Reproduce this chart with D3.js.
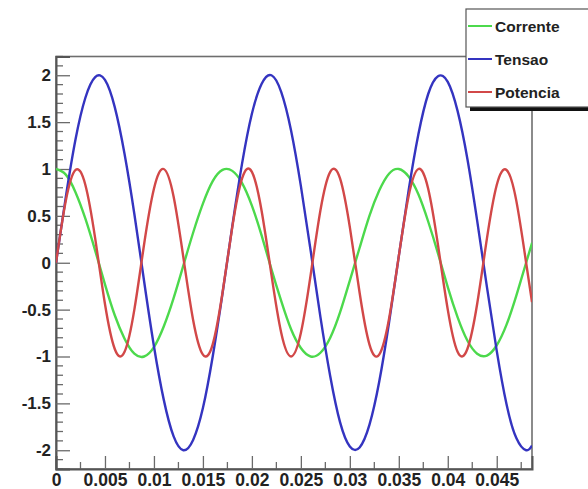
<!DOCTYPE html>
<html>
<head>
<meta charset="utf-8">
<script src="https://cdn.jsdelivr.net/npm/d3@7"></script>
<style>
  html, body { margin: 0; padding: 0; background: #ffffff; }
  svg { display: block; }
  text { font-family: "Liberation Sans", Arial, sans-serif; font-weight: bold; }
</style>
</head>
<body>
<svg id="chart" width="588" height="489"></svg>
<script>
// ---- data ----
const tempo = [0, 0.001, 0.002, 0.003, 0.004, 0.005, 0.006, 0.007, 0.008, 0.009,
  0.010, 0.011, 0.012, 0.013, 0.014, 0.015, 0.016, 0.017, 0.018, 0.019,
  0.020, 0.021, 0.022, 0.023, 0.024, 0.025, 0.026, 0.027, 0.028, 0.029,
  0.030, 0.031, 0.032, 0.033, 0.034, 0.035, 0.036, 0.037, 0.038, 0.039,
  0.040, 0.041, 0.042, 0.043, 0.044, 0.045, 0.046, 0.047, 0.048, 0.0486];

const corrente = [1.00, 0.94, 0.75, 0.47, 0.13, -0.23, -0.56, -0.81, -0.97, -1.00,
  -0.90, -0.68, -0.38, -0.03, 0.32, 0.63, 0.87, 0.99, 0.98, 0.85,
  0.61, 0.29, -0.07, -0.41, -0.71, -0.91, -1.00, -0.96, -0.80, -0.53,
  -0.19, 0.16, 0.50, 0.77, 0.95, 1.00, 0.92, 0.73, 0.44, 0.10,
  -0.26, -0.58, -0.83, -0.97, -0.99, -0.88, -0.66, -0.35, 0.00, 0.21];

const tensao = [0.00, 0.70, 1.32, 1.76, 1.98, 1.95, 1.66, 1.16, 0.52, -0.20,
  -0.89, -1.46, -1.85, -2.00, -1.89, -1.55, -1.00, -0.33, 0.39, 1.06,
  1.59, 1.91, 2.00, 1.82, 1.41, 0.82, 0.13, -0.58, -1.21, -1.70,
  -1.96, -1.97, -1.73, -1.27, -0.64, 0.07, 0.77, 1.37, 1.80, 1.99,
  1.93, 1.62, 1.11, 0.45, -0.26, -0.94, -1.51, -1.87, -2.00, -1.95];

const potencia = [0.00, 0.66, 0.99, 0.83, 0.26, -0.44, -0.92, -0.95, -0.50, 0.20,
  0.79, 1.00, 0.71, 0.06, -0.61, -0.98, -0.87, -0.32, 0.38, 0.90,
  0.97, 0.55, -0.13, -0.75, -1.00, -0.75, -0.13, 0.56, 0.97, 0.90,
  0.38, -0.32, -0.87, -0.98, -0.60, 0.07, 0.71, 1.00, 0.79, 0.19,
  -0.50, -0.95, -0.92, -0.44, 0.26, 0.83, 0.99, 0.66, 0.00, -0.42];

const seriesNames = ["Corrente", "Tensao", "Potencia"];
const seriesColors = ["#4cd94c", "#3434c0", "#d24848"];

const xTicks = [0, 0.005, 0.01, 0.015, 0.02, 0.025, 0.03, 0.035, 0.04, 0.045];
const xTickLabels = ["0", "0.005", "0.01", "0.015", "0.02", "0.025", "0.03", "0.035", "0.04", "0.045"];
const yTicks = [-2, -1.5, -1, -0.5, 0, 0.5, 1, 1.5, 2];
const yTickLabels = ["-2", "-1.5", "-1", "-0.5", "0", "0.5", "1", "1.5", "2"];
const xDomain = [0, 0.0486];
const yDomain = [-2.2, 2.2];

// ---- layout ----
const L = 56, R = 532, T = 56.5, B = 469;
const svg = d3.select("#chart");
const x = d3.scaleLinear().domain(xDomain).range([L, R]);
const y = d3.scaleLinear().domain(yDomain).range([B, T]);

svg.append("rect").attr("width", 588).attr("height", 489).attr("fill", "#ffffff");

// clip for curves
svg.append("clipPath").attr("id", "plotclip")
  .append("rect").attr("x", L).attr("y", T).attr("width", R - L).attr("height", B - T);

// frame
svg.append("rect").attr("x", L).attr("y", T).attr("width", R - L).attr("height", B - T)
  .attr("fill", "none").attr("stroke", "#6e6e6e").attr("stroke-width", 1.6);

// minor ticks
const xMinor = d3.range(0.0025, 0.0486, 0.005);
svg.append("g").selectAll("line").data(xMinor).join("line")
  .attr("x1", d => x(d)).attr("x2", d => x(d))
  .attr("y1", B).attr("y2", B - 7)
  .attr("stroke", "#6a6a6a").attr("stroke-width", 1.3);
const yMinor = d3.range(-22, 23).map(v => v / 10).filter(v => Math.abs(v * 2 - Math.round(v * 2)) > 1e-6);
svg.append("g").selectAll("line").data(yMinor).join("line")
  .attr("x1", L).attr("x2", L + 7)
  .attr("y1", d => y(d)).attr("y2", d => y(d))
  .attr("stroke", "#6a6a6a").attr("stroke-width", 1.3);

// axes
const xAxis = d3.axisBottom(x).tickValues(xTicks)
  .tickFormat((d, i) => xTickLabels[i]).tickSize(-13).tickPadding(5);
const gx = svg.append("g").attr("transform", `translate(0,${B})`).call(xAxis);
gx.select(".domain").attr("stroke", "#555").attr("stroke-width", 2);
gx.selectAll(".tick line").attr("stroke", "#6a6a6a").attr("stroke-width", 1.3);
gx.selectAll(".tick text").attr("font-size", 17.5).attr("fill", "#222")
  .attr("font-family", "Liberation Sans, Arial, sans-serif").attr("font-weight", "bold");

const yAxis = d3.axisLeft(y).tickValues(yTicks)
  .tickFormat((d, i) => yTickLabels[i]).tickSize(-14).tickPadding(5);
const gy = svg.append("g").attr("transform", `translate(${L},0)`).call(yAxis);
gy.select(".domain").attr("stroke", "#555").attr("stroke-width", 2);
gy.selectAll(".tick line").attr("stroke", "#6a6a6a").attr("stroke-width", 1.3);
gy.selectAll(".tick text").attr("font-size", 17).attr("fill", "#222")
  .attr("font-family", "Liberation Sans, Arial, sans-serif").attr("font-weight", "bold");

// curves
const seriesData = [corrente, tensao, potencia];
const line = d3.line().x(d => x(d[0])).y(d => y(d[1])).curve(d3.curveNatural);
const plot = svg.append("g").attr("clip-path", "url(#plotclip)");
seriesData.forEach((vals, i) => {
  plot.append("path")
    .datum(tempo.map((t, j) => [t, vals[j]]))
    .attr("fill", "none")
    .attr("stroke", seriesColors[i])
    .attr("stroke-width", 2.4)
    .attr("stroke-linejoin", "round")
    .attr("d", line);
});

// legend
const lg = svg.append("g");
lg.append("rect").attr("x", 470).attr("y", 107).attr("width", 130).attr("height", 4).attr("fill", "#111");
lg.append("rect").attr("x", 466).attr("y", 9).attr("width", 130).attr("height", 98)
  .attr("fill", "#ffffff").attr("stroke", "#555").attr("stroke-width", 1.2);
const legY = [26, 59, 92];
seriesNames.forEach((name, i) => {
  lg.append("line").attr("x1", 468).attr("x2", 492).attr("y1", legY[i]).attr("y2", legY[i])
    .attr("stroke", seriesColors[i]).attr("stroke-width", 2);
  lg.append("text").attr("x", 495).attr("y", legY[i]).attr("dy", "0.36em")
    .attr("font-size", 15.5).attr("fill", "#222").text(name);
});
</script>
</body>
</html>
